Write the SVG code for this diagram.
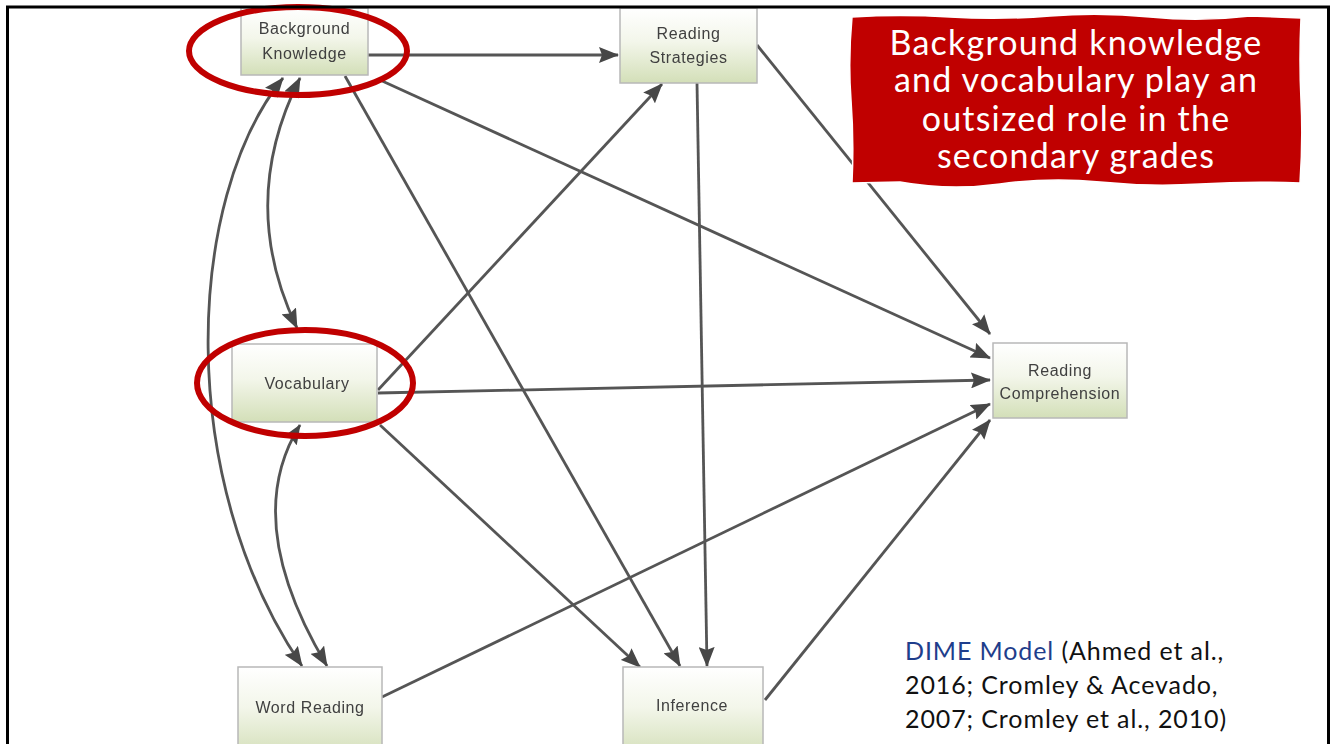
<svg xmlns="http://www.w3.org/2000/svg" width="1331" height="744" viewBox="0 0 1331 744">
  <defs>
    <linearGradient id="boxFill" x1="0" y1="0" x2="0" y2="1">
      <stop offset="0" stop-color="#ffffff"/>
      <stop offset="0.45" stop-color="#f3f6ea"/>
      <stop offset="1" stop-color="#d3dfb8"/>
    </linearGradient>
    <filter id="soft" x="-5%" y="-5%" width="110%" height="110%">
      <feGaussianBlur stdDeviation="0.7"/>
    </filter>
    <marker id="arrow" viewBox="0 0 20 16" refX="19" refY="8" markerWidth="20" markerHeight="16" markerUnits="userSpaceOnUse" orient="auto-start-reverse">
      <path d="M0,0 L20,8 L0,16 L3,8 Z" fill="#474747"/>
    </marker>
  </defs>
  <style>
    .node rect { fill: url(#boxFill); stroke: #b8b8b8; stroke-width: 1.5; }
    .node text { font-family: "Liberation Sans", "DejaVu Sans", sans-serif; font-size: 16px; letter-spacing: 0.6px; fill: #404040; text-anchor: middle; }
    .edge { fill: none; stroke: #555555; stroke-width: 2.8; marker-end: url(#arrow); }
    .both { marker-start: url(#arrow); }
    .ring { fill: none; stroke: #c00000; stroke-width: 6; }
    .callout { font-family: "Lato", "Liberation Sans", sans-serif; font-size: 34px; letter-spacing: 1.2px; fill: #ffffff; text-anchor: middle; }
    .cite { font-family: "Lato", "Liberation Sans", sans-serif; font-size: 25px; letter-spacing: 0.9px; fill: #111111; }
  </style>

  <rect x="0" y="0" width="1331" height="744" fill="#ffffff"/>

  <!-- path model -->
  <g filter="url(#soft)">
    <g id="connectors">
      <line class="edge" x1="368" y1="55" x2="618" y2="55"/>
      <line class="edge" x1="380" y1="80" x2="990" y2="358"/>
      <line class="edge" x1="345" y1="76" x2="680" y2="666"/>
      <path class="edge both" d="M300 78 Q237 203 297 328"/>
      <path class="edge both" d="M283 78 C185 200 175 480 302 666"/>
      <path class="edge both" d="M300 425 Q240 521 327 666"/>
      <line class="edge" x1="378" y1="390" x2="662" y2="84"/>
      <line class="edge" x1="378" y1="393" x2="990" y2="380"/>
      <line class="edge" x1="380" y1="425" x2="640" y2="667"/>
      <line class="edge" x1="757" y1="45" x2="990" y2="334"/>
      <line class="edge" x1="697" y1="83" x2="707" y2="666"/>
      <line class="edge" x1="382" y1="697" x2="990" y2="404"/>
      <line class="edge" x1="765" y1="700" x2="990" y2="420"/>
    </g>

    <g id="background-knowledge" class="node">
      <rect x="241" y="8" width="127" height="67"/>
      <text x="304.5" y="34">Background</text>
      <text x="304.5" y="59">Knowledge</text>
    </g>
    <g id="reading-strategies" class="node">
      <rect x="620" y="8" width="137" height="75"/>
      <text x="688.5" y="39">Reading</text>
      <text x="688.5" y="63">Strategies</text>
    </g>
    <g id="vocabulary" class="node">
      <rect x="232" y="344" width="145" height="78"/>
      <text x="307" y="389">Vocabulary</text>
    </g>
    <g id="reading-comprehension" class="node">
      <rect x="993" y="343" width="134" height="75"/>
      <text x="1060" y="376">Reading</text>
      <text x="1060" y="399">Comprehension</text>
    </g>
    <g id="word-reading" class="node">
      <rect x="238" y="667" width="144" height="90"/>
      <text x="310" y="713">Word Reading</text>
    </g>
    <g id="inference" class="node">
      <rect x="623" y="667" width="140" height="90"/>
      <text x="692" y="711">Inference</text>
    </g>
  </g>

  <!-- highlight rings -->
  <ellipse class="ring" cx="298" cy="51" rx="109" ry="44"/>
  <ellipse class="ring" cx="305" cy="383" rx="108" ry="53"/>

  <!-- slide frame -->
  <path d="M7.5 750 V7 H1328.5 V750" fill="none" stroke="#000000" stroke-width="3"/>

  <!-- callout -->
  <g id="callout">
    <path d="M852 17 Q900 14 950 17 T1050 16 T1150 17 T1250 16 L1301 18 Q1299 60 1301 100 T1300 183 Q1250 181 1200 184 T1100 182 T1000 184 T900 182 L852 183 Q854 140 851 100 T852 17 Z" fill="#c00000" stroke="#ffffff" stroke-width="1.5"/>
    <text class="callout" x="1076" y="55">Background knowledge</text>
    <text class="callout" x="1076" y="92">and vocabulary play an</text>
    <text class="callout" x="1076" y="131">outsized role in the</text>
    <text class="callout" x="1076" y="168">secondary grades</text>
  </g>

  <!-- citation -->
  <g id="citation">
    <text class="cite" x="905" y="660"><tspan fill="#1f3e8c">DIME Model</tspan> (Ahmed et al.,</text>
    <text class="cite" x="905" y="694">2016; Cromley &amp; Acevado,</text>
    <text class="cite" x="905" y="728">2007; Cromley et al., 2010)</text>
  </g>
</svg>
